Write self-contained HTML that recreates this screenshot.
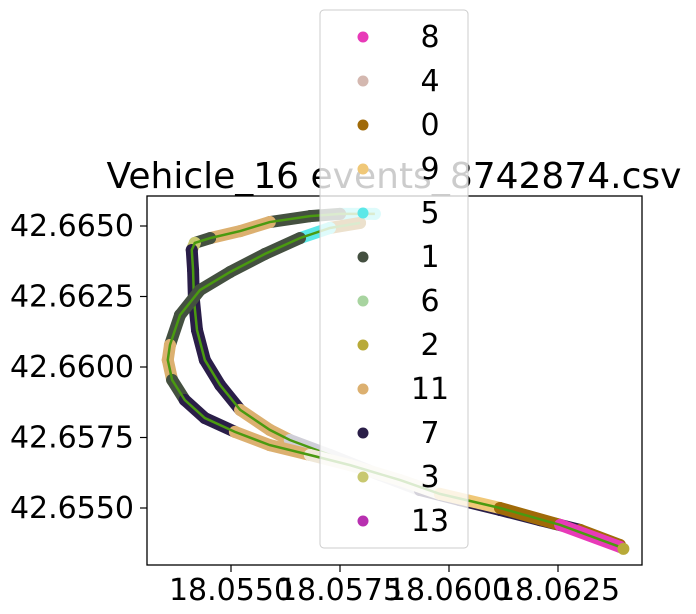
<!DOCTYPE html>
<html><head><meta charset="utf-8">
<style>
body{margin:0;background:#fff;}
svg{display:block;font-family:"DejaVu Sans","Liberation Sans",sans-serif;}
</style></head>
<body>
<svg id="chart" width="696" height="614">
<g id="plot"></g>
<rect x="147" y="196" width="495" height="369" fill="none" stroke="#000" stroke-width="1.3"/>
<g id="ticks"></g>
<text x="394" y="188" font-size="36" text-anchor="middle">Vehicle_16 events_8742874.csv</text>
<g id="legend"></g>
</svg>
<script>
const xTicks=[18.0550,18.0575,18.0600,18.0625];
const yTicks=[42.6550,42.6575,42.6600,42.6625,42.6650];
const trackALon=[18.05830,18.05750,18.05681,18.05589,18.05521,18.05452,18.05417,18.05410,18.05413,18.05415,18.05422,18.05440,18.05475,18.05521,18.05589,18.05635,18.05727,18.05842,18.05933,18.06025,18.06117,18.06209,18.06301,18.06392];
const trackALat=[42.66543,42.66543,42.66535,42.66514,42.66482,42.66457,42.66440,42.66415,42.66344,42.66238,42.66131,42.66025,42.65936,42.65848,42.65777,42.65741,42.65688,42.65617,42.65564,42.65528,42.65493,42.65457,42.65422,42.65369];
const trackAColor=["#5ce8e8","#445040","#445040","#dcb070","#dcb070","#445040","#c8c870","#2a1e48","#2a1e48","#2a1e48","#2a1e48","#2a1e48","#2a1e48","#dcb070","#dcb070","#d0cfd8","#d0cfd8","#d0cfd8","#2a1e48","#2a1e48","#2a1e48","#2a1e48","#a06a08"];
const trackBLon=[18.05796,18.05727,18.05658,18.05578,18.05498,18.05429,18.05383,18.05360,18.05355,18.05365,18.05394,18.05440,18.05509,18.05589,18.05681,18.05773,18.05888,18.05979,18.06117,18.06255,18.06392];
const trackBLat=[42.66511,42.66493,42.66457,42.66401,42.66337,42.66273,42.66184,42.66078,42.66025,42.65954,42.65883,42.65819,42.65770,42.65723,42.65688,42.65652,42.65599,42.65550,42.65500,42.65440,42.65362];
const trackBColor=["#a06a08","#5ce8e8","#445040","#445040","#445040","#445040","#445040","#dcb070","#dcb070","#445040","#2a1e48","#2a1e48","#dcb070","#dcb070","#f0e8d8","#f0e8d8","#f0e8d8","#f0c878","#a06a08","#e83ab8"];
const legendLabels=["8","4","0","9","5","1","6","2","11","7","3","13"];
const legendColors=["#e83ab8","#d4b8b0","#a06a08","#f0c878","#5ce8e8","#445040","#a8d4a0","#b8aa38","#dcb070","#2a1e48","#c8c870","#b830b0"];

const NS="http://www.w3.org/2000/svg";
const xs=v=>449+(v-18.06)/0.0025*109;
const ys=v=>367-(v-42.66)/0.0025*70.5;
function mk(tag,attrs,parent){const e=document.createElementNS(NS,tag);for(const k in attrs)e.setAttribute(k,attrs[k]);parent.appendChild(e);return e;}
const plot=document.getElementById('plot');
function drawTrack(lon,lat,col,name){
  for(let i=0;i<lon.length-1;i++){
    const l=mk('line',{x1:xs(lon[i]),y1:ys(lat[i]),x2:xs(lon[i+1]),y2:ys(lat[i+1]),stroke:col[i],'stroke-width':12,'stroke-linecap':'round'},plot);
    
    
  }
  for(let i=0;i<lon.length;i++){
    const c=mk('circle',{cx:xs(lon[i]),cy:ys(lat[i]),r:6,fill:col[Math.min(i,col.length-1)]},plot);
    
    
  }
  const p=mk('polyline',{points:lon.map((v,i)=>xs(v)+','+ys(lat[i])).join(' '),fill:'none',stroke:'#4a9a10','stroke-width':2.5},plot);
  
  
}
drawTrack(trackALon,trackALat,trackAColor,'track-a');
drawTrack(trackBLon,trackBLat,trackBColor,'track-b');
const ex=mk('circle',{cx:xs(18.06400),cy:ys(42.65355),r:6,fill:'#b8aa38'},plot);



const tk=document.getElementById('ticks');
xTicks.forEach(v=>{
  mk('line',{x1:xs(v),y1:565,x2:xs(v),y2:572,stroke:'#000','stroke-width':1.2},tk);
  const t=mk('text',{x:xs(v),y:600,'font-size':30,'text-anchor':'middle'},tk);
  t.textContent=v.toFixed(4);
  
  
});
yTicks.forEach(v=>{
  mk('line',{x1:140,y1:ys(v),x2:147,y2:ys(v),stroke:'#000','stroke-width':1.2},tk);
  const t=mk('text',{x:134,y:ys(v)+10,'font-size':30,'text-anchor':'end'},tk);
  t.textContent=v.toFixed(4);
  
  
});

const lg=document.getElementById('legend');
mk('rect',{x:320,y:10,width:148,height:538,rx:4,fill:'rgba(255,255,255,0.8)',stroke:'#ccc','stroke-width':1},lg);
legendLabels.forEach((lab,i)=>{
  const y=37+i*44;
  const c=mk('circle',{cx:363,cy:y,r:5.5,fill:legendColors[i]},lg);
  
  
  const t=mk('text',{x:430,y:y+10,'font-size':30,'text-anchor':'middle'},lg);
  t.textContent=lab;
  
  
});
</script>
</body></html>
